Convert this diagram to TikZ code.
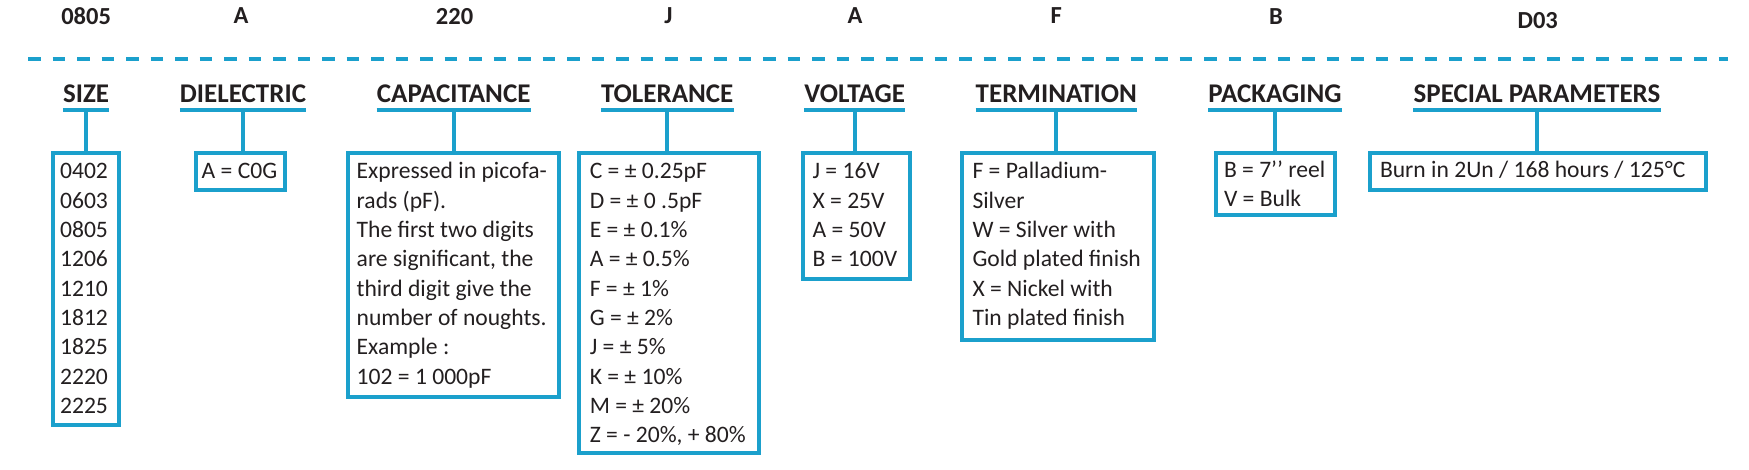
\documentclass[tikz,border=0pt]{standalone}
\usepackage{fontspec}
\setmainfont{Carlito}
\definecolor{cblue}{RGB}{27,160,204}
\definecolor{ink}{RGB}{35,31,32}
\tikzset{
  code/.style={font=\fontsize{24.5}{24.5}\selectfont\bfseries, text=ink, anchor=base, inner sep=0pt},
  head/.style={font=\fontsize{27}{27}\selectfont\bfseries, text=ink, anchor=base, inner sep=0pt, text depth=7pt},
  uline/.style={draw=cblue, line width=4pt},
  link/.style={draw=cblue, line width=4pt},
  sepline/.style={draw=cblue, line width=4pt, dash pattern=on 12.7pt off 11.8pt},
  specbox/.style={draw=cblue, line width=4pt, anchor=north west, inner ysep=0pt, outer sep=0pt,
    text=ink, font=\fontsize{23.6}{29.3}\selectfont},
}
\newcommand{\boxtext}[2]{\makebox[#1][l]{\begin{tabular}[t]{@{}l@{}}#2\end{tabular}}}
\begin{document}
\begin{tikzpicture}[x=1pt,y=-1pt]
\useasboundingbox (0,0) rectangle (1749,470);
% codes
\node[code] (c1) at (86.1,24.5) {0805};
\node[code] (c2) at (241.1,23.5) {A};
\node[code] (c3) at (454.6,24.5) {220};
\node[code] (c4) at (668.3,23.5) {J};
\node[code] (c5) at (855,23.5) {A};
\node[code] (c6) at (1056.3,23.5) {F};
\node[code] (c7) at (1276,24.5) {B};
\node[code] (c8) at (1537.7,28.5) {D03};
% separator
\coordinate (dl) at (28,59);
\coordinate (dr) at (1728,59);
\draw[sepline] (dl) -- (dr);
% headers
\node[head] (h1) at (86.1,102.7) {SIZE};
\node[head] (h2) at (243,102.7) {DIELECTRIC};
\node[head] (h3) at (453.7,102.7) {CAPACITANCE};
\node[head] (h4) at (667.2,102.7) {TOLERANCE};
\node[head] (h5) at (854.7,102.7) {VOLTAGE};
\node[head] (h6) at (1056.3,102.7) {TERMINATION};
\node[head] (h7) at (1275,102.7) {PACKAGING};
\node[head] (h8) at (1537,102.7) {SPECIAL PARAMETERS};
% boxes
\node[specbox, inner xsep=7.3pt, text height=25.7pt, text depth=246.3pt] (b1) at (52.8,153.3)
  {\boxtext{51.2pt}{0402\\0603\\0805\\1206\\1210\\1812\\1825\\2220\\2225}};
\node[specbox, inner xsep=5.4pt, text height=25.7pt, text depth=10.7pt] (b2) at (196.3,153.3)
  {\boxtext{77.6pt}{A = C0G}};
\node[specbox, inner xsep=8.5pt, text height=25.7pt, text depth=217.7pt] (b3) at (348.2,153.3)
  {\boxtext{193.8pt}{Expressed in picofa-\\rads (pF).\\The first two digits\\are significant, the\\third digit give the\\number of noughts.\\Example :\\102 = 1 000pF}};
\node[specbox, inner xsep=10.8pt, text height=25.7pt, text depth=274.3pt] (b4) at (579,153.3)
  {\boxtext{158pt}{C = ± 0.25pF\\D = ± 0 .5pF\\E = ± 0.1\%\\A = ± 0.5\%\\F = ± 1\%\\G = ± 2\%\\J = ± 5\%\\K = ± 10\%\\M = ± 20\%\\Z = - 20\%, + 80\%}};
\node[specbox, inner xsep=9.2pt, text height=25.7pt, text depth=99.7pt] (b5) at (803.4,153.3)
  {\boxtext{88pt}{J = 16V\\X = 25V\\A = 50V\\B = 100V}};
\node[specbox, inner xsep=10.3pt, text height=25.7pt, text depth=161.3pt] (b6) at (962.2,153.3)
  {\boxtext{171.5pt}{F = Palladium-\\Silver\\W = Silver with\\Gold plated finish\\X = Nickel with\\Tin plated finish}};
\node[specbox, inner xsep=8pt, text height=24.4pt, text depth=37.6pt] (b7) at (1216,153.3)
  {\boxtext{102.7pt}{B = 7’’ reel\\V = Bulk}};
\node[specbox, inner xsep=9.6pt, text height=24.4pt, text depth=12.6pt] (b8) at (1370.4,153.3)
  {\boxtext{316.2pt}{Burn in 2Un / 168 hours / 125°C}};
% underlines and links
\foreach \i in {1,...,8}{
  \draw[uline] (h\i.south west) -- (h\i.south east);
  \draw[link] (h\i.south) -- (h\i.south |- b\i.north);
}
\end{tikzpicture}
\end{document}
